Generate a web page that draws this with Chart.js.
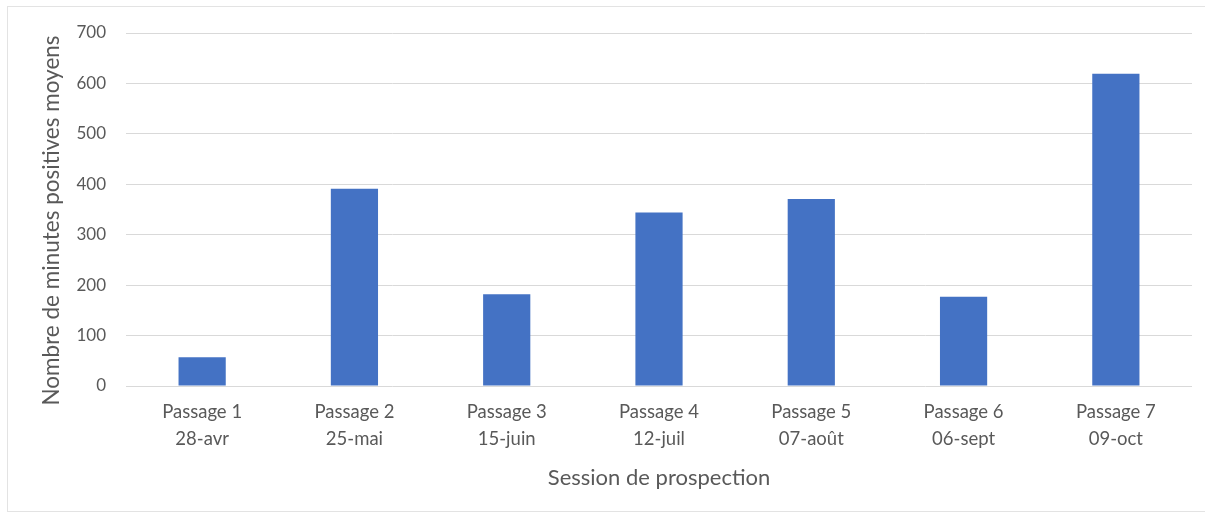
<!DOCTYPE html>
<html>
<head>
<meta charset="utf-8">
<script src="https://cdn.jsdelivr.net/npm/chart.js@4"></script>
<style>
  html, body { margin: 0; padding: 0; background: #ffffff; }
  #wrap { width: 1205px; height: 515px; position: relative; }
</style>
</head>
<body>
<div id="wrap"><canvas id="c" width="1205" height="515"></canvas></div>
<script>
// Sessions de prospection (passage + date)
const passages = ["Passage 1", "Passage 2", "Passage 3", "Passage 4", "Passage 5", "Passage 6", "Passage 7"];
const dates = ["28-avr", "25-mai", "15-juin", "12-juil", "07-août", "06-sept", "09-oct"];
// Nombre moyen de minutes positives par session
const minutesPositives = [57, 391, 182, 344, 371, 177, 619];
// Graduations de l'axe vertical
const yMin = 0, yMax = 700, yStep = 100;
const yTitle = "Nombre de minutes positives moyens";

const labels = passages.map((p, i) => [p, dates[i]]);
const FONT = "Lato, 'Open Sans', sans-serif";
const TXT = "#595959";

// Cadre gris clair autour du graphique
const framePlugin = {
  id: "frame",
  beforeDraw(chart) {
    const ctx = chart.ctx;
    ctx.save();
    ctx.fillStyle = "#ffffff";
    ctx.fillRect(0, 0, chart.width, chart.height);
    ctx.strokeStyle = "#e3e3e3";
    ctx.lineWidth = 1;
    ctx.strokeRect(7.5, 6.5, chart.width, chart.height - 10);
    ctx.restore();
  }
};

// Titre vertical de l'axe des ordonnées, un peu abaissé sous le centre de la zone de tracé
const yTitlePlugin = {
  id: "yTitle",
  afterDraw(chart) {
    const ctx = chart.ctx;
    const area = chart.chartArea;
    ctx.save();
    ctx.translate(52, (area.top + area.bottom) / 2 + 11);
    ctx.rotate(-Math.PI / 2);
    ctx.font = "22.5px " + FONT;
    ctx.fillStyle = TXT;
    ctx.textAlign = "center";
    ctx.textBaseline = "middle";
    ctx.fillText(yTitle, 0, 0);
    ctx.restore();
  }
};

new Chart(document.getElementById("c"), {
  type: "bar",
  data: {
    labels: labels,
    datasets: [{
      data: minutesPositives,
      backgroundColor: "#4472C4",
      borderWidth: 0,
      categoryPercentage: 1,
      barPercentage: 0.31
    }]
  },
  options: {
    responsive: false,
    animation: false,
    devicePixelRatio: 1,
    layout: { padding: { left: 0, right: 13, top: 33, bottom: 0 } },
    plugins: { legend: { display: false }, tooltip: { enabled: false } },
    scales: {
      x: {
        grid: { display: false, drawTicks: false },
        border: { display: false },
        ticks: {
          color: TXT,
          font: { family: FONT, size: 18.5, lineHeight: 1.46 },
          padding: 13,
          maxRotation: 0,
          autoSkip: false
        },
        title: {
          display: true,
          text: "Session de prospection",
          color: TXT,
          font: { family: FONT, size: 22 },
          padding: { top: 0, bottom: 24 }
        },
        afterFit(scale) { scale.height = 129; }
      },
      y: {
        min: yMin,
        max: yMax,
        grid: { color: "#d9d9d9", lineWidth: 1, drawTicks: false },
        border: { display: false },
        ticks: {
          stepSize: yStep,
          color: TXT,
          font: { family: FONT, size: 17 },
          padding: 20
        },
        title: { display: false },
        afterFit(scale) { scale.width = 126; }
      }
    }
  },
  plugins: [framePlugin, yTitlePlugin]
});
</script>
</body>
</html>
